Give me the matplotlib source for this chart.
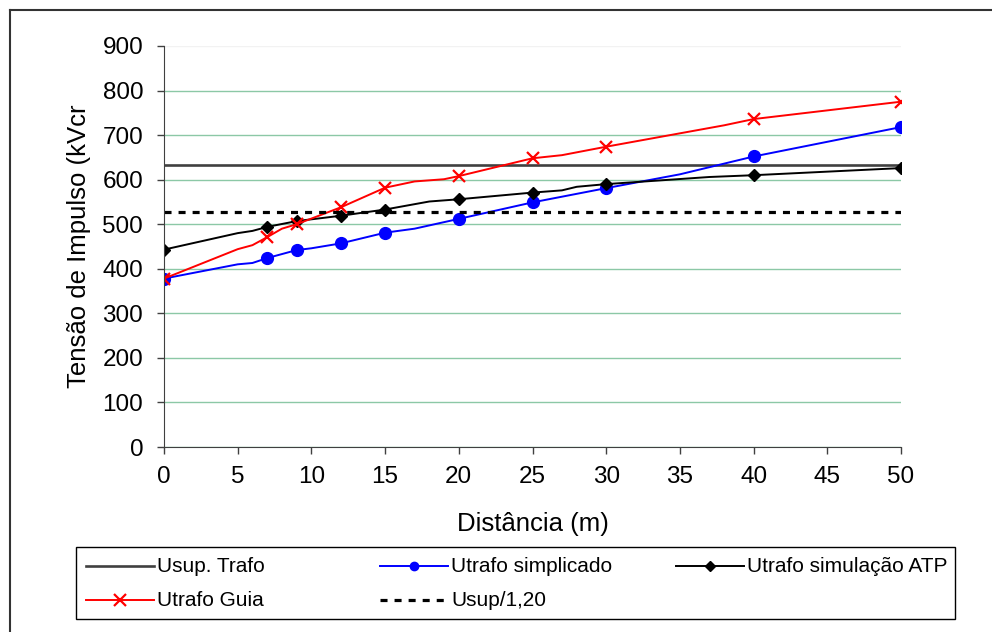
import matplotlib
matplotlib.use("Agg")
import matplotlib.pyplot as plt
from matplotlib.lines import Line2D
from matplotlib.patches import Rectangle

plt.rcParams['font.family'] = ['Liberation Sans', 'DejaVu Sans']

# distancias (m) com marcador
marker_x = [0, 7, 9, 12, 15, 20, 25, 30, 40, 50]

usup_trafo = 632
usup_120 = usup_trafo / 1.20

x_simpl = [0, 5, 6, 7, 9, 10, 12, 13, 15, 17, 20, 25, 30, 35, 40, 50]
y_simpl = [378, 410, 413, 424, 442, 446, 457, 465, 481, 490, 512, 549, 581, 612, 652, 718]

x_atp = [0, 5, 6, 7, 9, 12, 15, 17, 18, 20, 25, 27, 28, 30, 37, 40, 50]
y_atp = [443, 480, 485, 494, 507, 519, 533, 545, 551, 556, 571, 576, 584, 590, 606, 610, 626]

x_guia = [0, 5, 6, 7, 8, 9, 12, 15, 17, 19, 20, 25, 27, 30, 35, 38, 40, 50]
y_guia = [378, 444, 453, 471, 490, 500, 538, 582, 596, 601, 608, 648, 655, 674, 704, 722, 736, 775]

x_range = [0, 50]

W, H = 992, 632


def marks(xs):
    return [i for i, x in enumerate(xs) if x in marker_x]


def fx(p):
    return p / W


def fy(p):
    return 1 - p / H


fig = plt.figure(figsize=(W / 100, H / 100), dpi=100)
ax = fig.add_axes([fx(164), fy(447), 737 / W, 401 / H])

st_trafo = dict(color='#404040', lw=1.9)
st_simpl = dict(color='#0000ff', lw=1.4, marker='o')
st_atp = dict(color='black', lw=1.4, marker='D')
st_guia = dict(color='#ff0000', lw=1.4, marker='x', mew=1.6)
st_120 = dict(color='black', lw=2.3, linestyle=(0, (2.2, 2.2)))

ax.plot(x_range, [usup_trafo, usup_trafo], **st_trafo)
ax.plot(x_simpl, y_simpl, ms=8.5, markevery=marks(x_simpl), **st_simpl)
ax.plot(x_atp, y_atp, ms=6.5, markevery=marks(x_atp), **st_atp)
ax.plot(x_guia, y_guia, ms=9, markevery=marks(x_guia), **st_guia)
ax.plot(x_range, [usup_120, usup_120], **st_120)

ax.set_xlim(0, 50)
ax.set_ylim(0, 900)
ax.set_xticks(range(0, 51, 5))
ax.set_yticks(range(0, 901, 100))
ax.tick_params(labelsize=17.5, length=5, width=1, color='#404040', pad=9)
ax.tick_params(axis='y', pad=10)

ax.yaxis.grid(True, color='#8cc8a6', lw=1)
ax.get_ygridlines()[-1].set_color('#f2f2f2')
ax.set_axisbelow(True)
for s in ['top', 'right']:
    ax.spines[s].set_visible(False)
for s in ['left', 'bottom']:
    ax.spines[s].set_color('#404040')

ax.set_xlabel('Distância (m)', fontsize=18.5, labelpad=17)
ax.set_ylabel('Tensão de Impulso (kVcr', fontsize=18.5, labelpad=8)

# legenda no estilo do Excel (colunas de largura igual)
fig.add_artist(Rectangle((fx(76), fy(619)), 879 / W, 72 / H, transform=fig.transFigure,
                         fill=False, edgecolor='black', lw=1))
entries = [
    ('Usup. Trafo', st_trafo, 0, 86, 566),
    ('Utrafo simplicado', st_simpl, 6, 380, 566),
    ('Utrafo simulação ATP', st_atp, 5, 676, 566),
    ('Utrafo Guia', st_guia, 8, 86, 600),
    ('Usup/1,20', st_120, 0, 380, 600),
]
for label, st, ms, x0, y0 in entries:
    fig.add_artist(Line2D([fx(x0), fx(x0 + 34), fx(x0 + 68)], [fy(y0)] * 3,
                          transform=fig.transFigure, ms=ms, markevery=[1], **st))
    fig.text(fx(x0 + 71), fy(y0), label, fontsize=15, va='center', ha='left')

# moldura externa
fig.add_artist(Line2D([fx(10), 1], [fy(10), fy(10)], color='#333333', lw=1.5,
                      transform=fig.transFigure))
fig.add_artist(Line2D([fx(10), fx(10)], [0, fy(10)], color='#333333', lw=1.5,
                      transform=fig.transFigure))

fig.savefig('out.png', dpi=100)
